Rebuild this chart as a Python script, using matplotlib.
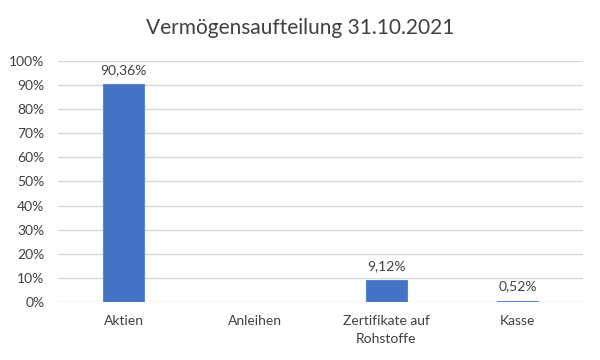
import matplotlib.pyplot as plt
from matplotlib.ticker import PercentFormatter

categories = ['Aktien', 'Anleihen', 'Zertifikate auf\nRohstoffe', 'Kasse']
values = [90.36, 0.0, 9.12, 0.52]
labels = ['90,36%', '', '9,12%', '0,52%']

plt.rcParams['font.family'] = ['Lato', 'DejaVu Sans']
text_col = '#404040'

fig = plt.figure(figsize=(6, 3.6), dpi=100)
ax = fig.add_axes([0.097, 0.161, 0.875, 0.67])

x = range(len(categories))
widths = [0.8 if v > 0 else 0 for v in values]
bars = ax.bar(x, values, width=0.31, color='#4472C4', edgecolor='#5A84CF',
              linewidth=widths, zorder=3)

for b, lab, v in zip(bars, labels, values):
    if lab:
        ax.annotate(lab, (b.get_x() + b.get_width() / 2, v), xytext=(0, 6),
                    textcoords='offset points', ha='center', va='bottom',
                    fontsize=10, color=text_col)

ax.set_xlim(-0.5, 3.5)
ax.set_ylim(0, 100)
ax.set_yticks(range(0, 101, 10))
ax.yaxis.set_major_formatter(PercentFormatter(decimals=0))
ax.set_xticks(list(x))
ax.set_xticklabels(categories, fontsize=10, color=text_col, linespacing=1.6)
ax.tick_params(axis='y', labelsize=10, labelcolor=text_col, length=0, pad=10)
ax.tick_params(axis='x', length=0, pad=9)
ax.grid(axis='y', color='#D9D9D9', linewidth=1, zorder=0)
for s in ax.spines.values():
    s.set_visible(False)

fig.text(0.5, 0.922, 'Vermögensaufteilung 31.10.2021', ha='center', va='center',
         fontsize=15, color=text_col)

fig.savefig('out.png', dpi=100)
